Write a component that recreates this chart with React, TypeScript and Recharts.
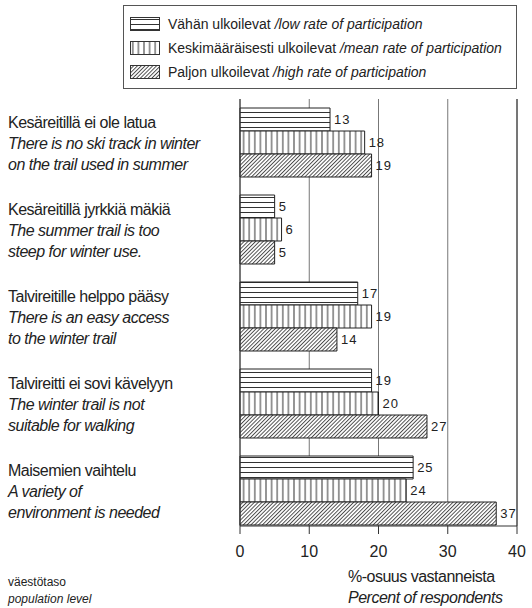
import React from 'react';
import { BarChart, Bar, XAxis, YAxis, CartesianGrid, LabelList, ReferenceLine, Legend } from 'recharts';

const categoriesFi = [
  'Kesäreitillä ei ole latua',
  'Kesäreitillä jyrkkiä mäkiä',
  'Talvireitille helppo pääsy',
  'Talvireitti ei sovi kävelyyn',
  'Maisemien vaihtelu',
];
const categoriesEn1 = [
  'There is no ski track in winter',
  'The summer trail is too',
  'There is an easy access',
  'The winter trail is not',
  'A variety of',
];
const categoriesEn2 = [
  'on the trail used in summer',
  'steep for winter use.',
  'to the winter trail',
  'suitable for walking',
  'environment is needed',
];
const lowRate = [13, 5, 17, 19, 25];
const meanRate = [18, 6, 19, 20, 24];
const highRate = [19, 5, 14, 27, 37];
const xTicks = [0, 10, 20, 30, 40];
const seriesFi = ['Vähän ulkoilevat', 'Keskimääräisesti ulkoilevat', 'Paljon ulkoilevat'];
const seriesEn = ['/low rate of participation', '/mean rate of participation', '/high rate of participation'];
const axisTitleFi = '%-osuus vastanneista';
const axisTitleEn = 'Percent of respondents';
const noteFi = 'väestötaso';
const noteEn = 'population level';

const FONT = '"Liberation Sans", Arial, Helvetica, sans-serif';
const patIds = ['patH', 'patV', 'patD'];

const data = categoriesFi.map((name, i) => ({
  name,
  low: lowRate[i],
  mean: meanRate[i],
  high: highRate[i],
}));

const YTick = (props: any) => {
  const { y, payload } = props;
  const i = categoriesFi.indexOf(payload.value);
  const common = { x: 8, fontSize: 16, letterSpacing: -0.5, fill: '#222', fontFamily: FONT };
  return (
    <g>
      <text {...common} y={y - 15}>{categoriesFi[i]}</text>
      <text {...common} y={y + 6} fontStyle="italic">{categoriesEn1[i]}</text>
      <text {...common} y={y + 27.5} fontStyle="italic">{categoriesEn2[i]}</text>
    </g>
  );
};

const AxisTitle = () => (
  <g fontFamily={FONT} fill="#222">
    <text x={348} y={582} fontSize={16} letterSpacing={-0.5}>{axisTitleFi}</text>
    <text x={348} y={603} fontSize={16} letterSpacing={-0.5} fontStyle="italic">{axisTitleEn}</text>
    <text x={8} y={586} fontSize={12}>{noteFi}</text>
    <text x={8} y={603} fontSize={12} fontStyle="italic">{noteEn}</text>
  </g>
);

const LegendBox = () => (
  <div
    style={{
      position: 'relative',
      width: 394,
      height: 84,
      border: '1px solid #555',
      boxSizing: 'border-box',
      fontFamily: FONT,
      fontSize: 14,
      color: '#222',
      background: '#fff',
    }}
  >
    {seriesFi.map((s, i) => (
      <div
        key={i}
        style={{
          position: 'absolute',
          left: 6,
          top: 11 + i * 24,
          height: 14,
          display: 'flex',
          alignItems: 'center',
          whiteSpace: 'nowrap',
        }}
      >
        <svg width={30} height={14} style={{ display: 'block' }}>
          <rect x={0.5} y={0.5} width={29} height={13} fill={`url(#${patIds[i]})`} stroke="#333" />
        </svg>
        <span style={{ marginLeft: 8, lineHeight: '14px' }}>
          {s} <i>{seriesEn[i]}</i>
        </span>
      </div>
    ))}
  </div>
);

export default function App() {
  return (
    <div style={{ position: 'absolute', left: 0, top: 0, width: 532, height: 608, background: '#fff' }}>
      <BarChart
        width={532}
        height={608}
        data={data}
        layout="vertical"
        margin={{ top: 99, right: 15, left: 0, bottom: 52 }}
        barSize={23}
        barGap={0}
      >
        <defs>
          <pattern id="patH" patternUnits="userSpaceOnUse" width={8} height={5}>
            <rect width={8} height={5} fill="#fff" />
            <line x1={0} y1={2.5} x2={8} y2={2.5} stroke="#333" strokeWidth={1} />
          </pattern>
          <pattern id="patV" patternUnits="userSpaceOnUse" width={5.6} height={8}>
            <rect width={5.6} height={8} fill="#fff" />
            <line x1={2.8} y1={0} x2={2.8} y2={8} stroke="#333" strokeWidth={1} />
          </pattern>
          <pattern id="patD" patternUnits="userSpaceOnUse" width={2.7} height={2.7} patternTransform="rotate(45)">
            <rect width={2.7} height={2.7} fill="#fff" />
            <line x1={0.5} y1={0} x2={0.5} y2={2.7} stroke="#333" strokeWidth={0.85} />
          </pattern>
        </defs>
        <CartesianGrid horizontal={false} stroke="#777" strokeWidth={1} />
        <XAxis
          type="number"
          domain={[0, 40]}
          ticks={xTicks}
          height={30}
          tickSize={8}
          tickMargin={12}
          tick={{ fontSize: 16, fill: '#222', fontFamily: FONT }}
          tickLine={{ stroke: '#333' }}
          axisLine={{ stroke: '#333' }}
          label={{ content: () => <AxisTitle /> }}
        />
        <XAxis
          xAxisId="top"
          orientation="top"
          type="number"
          domain={[0, 40]}
          height={0}
          tick={false}
          tickLine={false}
          axisLine={{ stroke: '#333' }}
        />
        <YAxis
          type="category"
          dataKey="name"
          width={240}
          padding={{ top: 0, bottom: -8 }}
          tickLine={false}
          axisLine={{ stroke: '#333' }}
          tick={<YTick />}
        />
        <ReferenceLine x={40} stroke="#333" />
        <Legend
          layout="horizontal"
          verticalAlign="middle"
          align="center"
          wrapperStyle={{ top: 5, left: 123, width: 394, height: 84 }}
          content={() => <LegendBox />}
        />
        <Bar dataKey="low" fill="url(#patH)" stroke="#222" strokeWidth={1} isAnimationActive={false}>
          <LabelList dataKey="low" position="right" offset={4} fontSize={13} fill="#222" fontFamily={FONT} letterSpacing={1} />
        </Bar>
        <Bar dataKey="mean" fill="url(#patV)" stroke="#222" strokeWidth={1} isAnimationActive={false}>
          <LabelList dataKey="mean" position="right" offset={4} fontSize={13} fill="#222" fontFamily={FONT} letterSpacing={1} />
        </Bar>
        <Bar dataKey="high" fill="url(#patD)" stroke="#222" strokeWidth={1} isAnimationActive={false}>
          <LabelList dataKey="high" position="right" offset={4} fontSize={13} fill="#222" fontFamily={FONT} letterSpacing={1} />
        </Bar>
      </BarChart>
    </div>
  );
}
